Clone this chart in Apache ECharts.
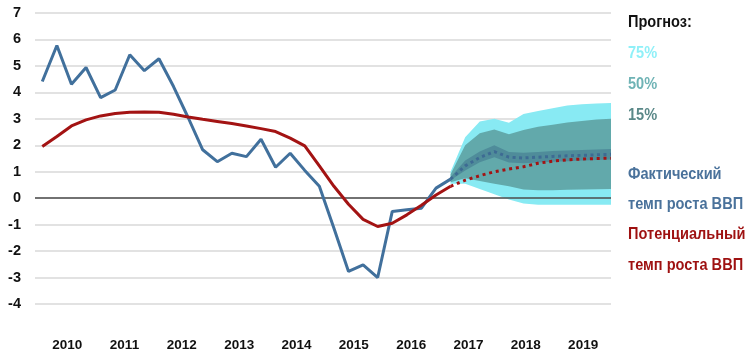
<!DOCTYPE html>
<html>
<head>
<meta charset="utf-8">
<script src="https://cdn.jsdelivr.net/npm/echarts@6/dist/echarts.min.js"></script>
<style>html,body{margin:0;padding:0;background:#fff}#c{width:750px;height:356px}</style>
</head>
<body>
<div id="c"></div>
<script>
// Year labels (each year = 4 quarterly points)
var years = ['2010','2011','2012','2013','2014','2015','2016','2017','2018','2019'];
var yTicks = [-4,-3,-2,-1,0,1,2,3,4,5,6,7];
// Actual GDP growth, quarterly from 2010Q1 to 2017Q1 (index 0..28)
var actual = [4.41,5.77,4.31,4.94,3.80,4.09,5.42,4.82,5.27,4.22,3.05,1.83,1.38,1.70,1.57,2.23,1.17,1.70,1.05,0.45,-1.14,-2.77,-2.52,-3.00,-0.50,-0.44,-0.38,0.38,0.72];
// Potential GDP growth, quarterly (index 0..28)
var potential = [1.95,2.33,2.73,2.96,3.11,3.20,3.25,3.26,3.25,3.17,3.07,2.98,2.90,2.82,2.73,2.63,2.52,2.27,1.98,1.22,0.45,-0.23,-0.80,-1.07,-0.95,-0.63,-0.27,0.12,0.45];
// Forecast (index 28..39)
var fcStart = 28;
var medianFc = [0.72,1.22,1.54,1.76,1.55,1.52,1.55,1.58,1.60,1.62,1.64,1.66];
var potentialFc = [0.45,0.68,0.85,1.00,1.10,1.19,1.32,1.40,1.45,1.48,1.50,1.51];
var fan15Low  = [0.68,1.05,1.36,1.55,1.35,1.32,1.35,1.38,1.40,1.42,1.44,1.46];
var fan15High = [0.80,1.42,1.76,2.00,1.75,1.72,1.75,1.78,1.80,1.82,1.84,1.86];
var fan50Low  = [0.60,0.75,0.65,0.55,0.45,0.33,0.30,0.30,0.32,0.33,0.34,0.35];
var fan50High = [0.90,2.00,2.45,2.60,2.42,2.58,2.70,2.78,2.86,2.92,2.97,3.00];
var fan75Low  = [0.55,0.55,0.35,0.15,-0.05,-0.20,-0.25,-0.25,-0.25,-0.25,-0.25,-0.25];
var fan75High = [1.00,2.30,2.90,3.00,2.85,3.18,3.30,3.40,3.50,3.55,3.58,3.60];

var FONT = "'Liberation Sans',Arial,sans-serif";
var C75 = '#88eaf3', C50 = '#62a9ab', C15 = '#4f8c9a';
var BLUE = '#41709c', RED = '#a31313';

function pts(arr, start) { return arr.map(function (v, i) { return [start + i, v]; }); }

function fan(name, low, high, color, z) {
  var data = low.map(function (v, i) { return [fcStart + i, v, high[i]]; });
  return {
    name: name, type: 'custom', data: data, z: z, silent: true,
    encode: { x: 0, y: [1, 2] },
    renderItem: function (params, api) {
      if (params.dataIndex !== 0) return;
      var up = [], dn = [];
      for (var k = 0; k < data.length; k++) {
        up.push(api.coord([data[k][0], data[k][2]]));
        dn.push(api.coord([data[k][0], data[k][1]]));
      }
      return { type: 'polygon', shape: { points: up.concat(dn.reverse()) }, style: { fill: color } };
    }
  };
}

function label(text, x, y, color) {
  return { type: 'text', x: x, y: y, scaleX: 0.91, z: 10,
    style: { text: text, fill: color, font: "bold 16px " + FONT, textVerticalAlign: 'top' } };
}

var chart = echarts.init(document.getElementById('c'), null, { renderer: 'canvas' });
chart.setOption({
  animation: false,
  grid: [
    { left: 35, top: 13, width: 576, bottom: 52 },
    { left: 38.5, top: 13, width: 573.3, bottom: 52 }
  ],
  xAxis: [
    { type: 'value', gridIndex: 0, min: -0.5, max: 39, show: false, splitLine: { show: false } },
    { type: 'category', gridIndex: 1, data: years, boundaryGap: true,
      axisLine: { show: false }, axisTick: { show: false },
      axisLabel: { color: '#111', fontFamily: FONT, fontWeight: 'bold', fontSize: 13.5, margin: 34 } }
  ],
  yAxis: [
    { type: 'value', gridIndex: 0, min: yTicks[0], max: yTicks[yTicks.length - 1], interval: 1,
      axisLine: { show: false }, axisTick: { show: false },
      splitLine: { lineStyle: { color: '#d9d9d9', width: 1.5 } },
      axisLabel: { color: '#111', fontFamily: FONT, fontWeight: 'bold', fontSize: 14.5, margin: 14 } },
    { type: 'value', gridIndex: 1, min: -4, max: 7, show: false }
  ],
  series: [
    fan('75', fan75Low, fan75High, C75, 2),
    fan('50', fan50Low, fan50High, C50, 2),
    fan('15', fan15Low, fan15High, C15, 2),
    { name: 'zero', type: 'line', data: [], z: 3,
      markLine: { silent: true, symbol: 'none', label: { show: false },
        lineStyle: { color: '#4d4d4d', width: 1.5, type: 'solid' }, data: [{ yAxis: 0 }] } },
    { name: 'medianFc', type: 'line', data: pts(medianFc, fcStart), symbol: 'none', z: 4,
      lineStyle: { color: '#3d6b93', width: 3, type: [3, 3.5], cap: 'butt' } },
    { name: 'actual', type: 'line', data: pts(actual, 0), symbol: 'none', z: 5,
      lineStyle: { color: BLUE, width: 3 } },
    { name: 'potentialFc', type: 'line', data: pts(potentialFc, fcStart), symbol: 'none', z: 6,
      lineStyle: { color: RED, width: 3, type: [3, 3.8], cap: 'butt' } },
    { name: 'potential', type: 'line', data: pts(potential, 0), symbol: 'none', z: 6,
      lineStyle: { color: RED, width: 3 } }
  ],
  graphic: [
    label('Прогноз:', 628, 15, '#111'),
    label('75%', 628, 46, '#8ff0f8'),
    label('50%', 628, 77, '#6fb3b5'),
    label('15%', 628, 108, '#5a8888'),
    label('Фактический', 628, 167, '#4a729b'),
    label('темп роста ВВП', 628, 197, '#4a729b'),
    label('Потенциальный', 628, 227, '#9e1111'),
    label('темп роста ВВП', 628, 258, '#9e1111')
  ]
});
</script>
</body>
</html>
